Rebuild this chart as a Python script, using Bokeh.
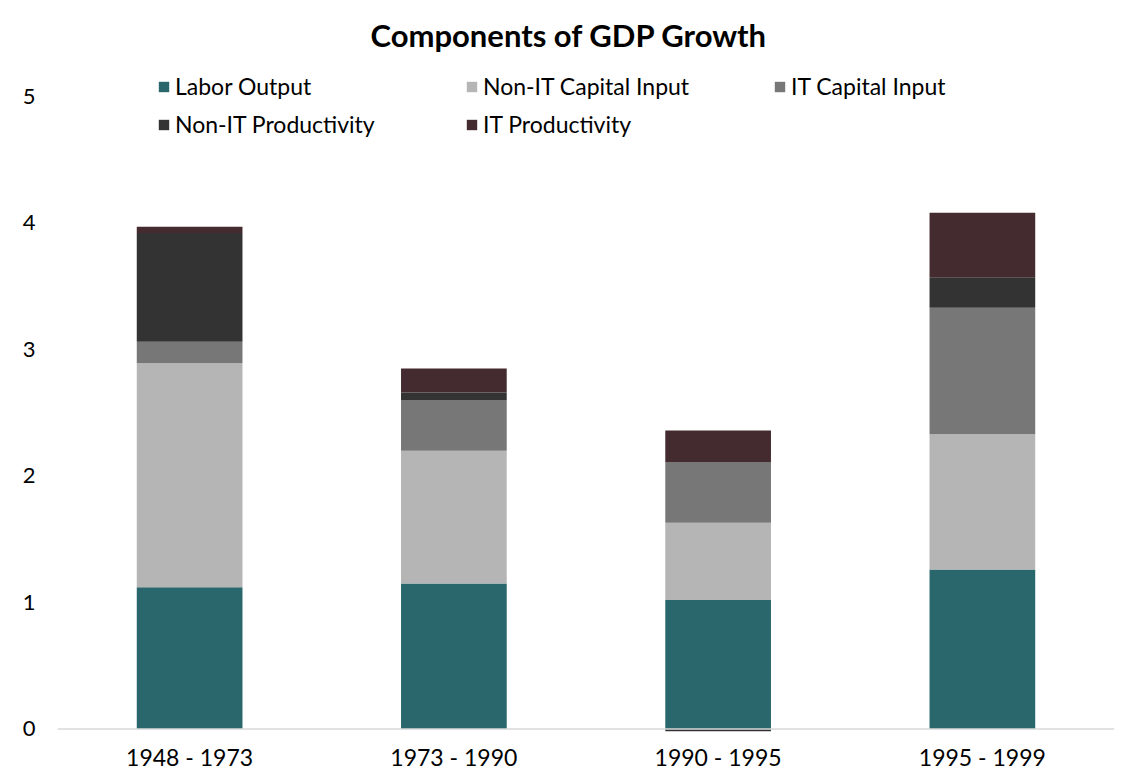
import numpy as np
from bokeh.plotting import figure
from bokeh.models import (ColumnDataSource, Legend, LegendItem, Span, FactorRange,
                          Range1d, FixedTicker, Label)
from bokeh.embed import file_html
from bokeh.resources import INLINE

periods = ["1948 - 1973", "1973 - 1990", "1990 - 1995", "1995 - 1999"]
series_names = ["Labor Output", "Non-IT Capital Input", "IT Capital Input",
                "Non-IT Productivity", "IT Productivity"]
labor_output = [1.12, 1.15, 1.02, 1.26]
non_it_capital = [1.77, 1.05, 0.61, 1.07]
it_capital = [0.17, 0.40, 0.48, 1.00]
non_it_productivity = [0.86, 0.06, -0.02, 0.24]
it_productivity = [0.05, 0.19, 0.25, 0.51]
y_ticks = [0, 1, 2, 3, 4, 5]

series_values = [labor_output, non_it_capital, it_capital, non_it_productivity, it_productivity]
colors = ["#2A676C", "#B5B5B5", "#777777", "#333333", "#432B2F"]

FONT = "Lato"

p = figure(x_range=FactorRange(*periods, range_padding=0),
           y_range=Range1d(-0.02, 5.758),
           width=1137, height=775, output_backend="svg", toolbar_location=None,
           min_border_left=57, min_border_right=23, min_border_top=0,
           min_border_bottom=44)
p.outline_line_color = None
p.xgrid.visible = False
p.ygrid.visible = False

pos_base = np.zeros(len(periods))
neg_base = np.zeros(len(periods))
renderers = []
for name, vals, col in zip(series_names, series_values, colors):
    v = np.array(vals, dtype=float)
    top = np.where(v >= 0, pos_base + v, neg_base)
    bottom = np.where(v >= 0, pos_base, neg_base + v)
    pos_base = np.where(v >= 0, pos_base + v, pos_base)
    neg_base = np.where(v < 0, neg_base + v, neg_base)
    src = ColumnDataSource(dict(x=periods, top=top, bottom=bottom))
    r = p.vbar(x="x", top="top", bottom="bottom", width=0.4, source=src,
               fill_color=col, line_color=None)
    renderers.append((name, r))

p.add_layout(Span(location=0, dimension="width", line_color="#D9D9D9", line_width=1.5))

p.yaxis.ticker = FixedTicker(ticks=y_ticks)
p.yaxis.axis_line_color = None
p.yaxis.major_tick_line_color = None
p.yaxis.minor_tick_line_color = None
p.yaxis.major_label_text_font = FONT
p.yaxis.major_label_text_font_size = "22px"
p.yaxis.major_label_text_color = "#000000"
p.yaxis.major_label_standoff = 16

p.xaxis.axis_line_color = None
p.xaxis.major_tick_line_color = None
p.xaxis.minor_tick_line_color = None
p.xaxis.major_label_text_font = FONT
p.xaxis.major_label_text_font_size = "23px"
p.xaxis.major_label_text_color = "#000000"
p.xaxis.major_label_standoff = 5

title = Label(x=1.9357, y=5.482, text="Components of GDP Growth",
              text_align="center", text_baseline="middle",
              text_font=FONT, text_font_style="bold", text_font_size="31px",
              text_color="#000000")
p.add_layout(title)

legend = Legend(items=[LegendItem(label=n, renderers=[r]) for n, r in renderers],
                location=(100, 592), orientation="horizontal", ncols=3,
                glyph_width=13, glyph_height=13, label_standoff=5,
                label_width=282, label_height=30, spacing=8, padding=0, margin=0,
                label_text_font=FONT, label_text_font_size="23px",
                label_text_color="#000000", background_fill_alpha=0,
                border_line_color=None)
p.add_layout(legend, "center")

open("out.html", "w").write(file_html(p, INLINE))
